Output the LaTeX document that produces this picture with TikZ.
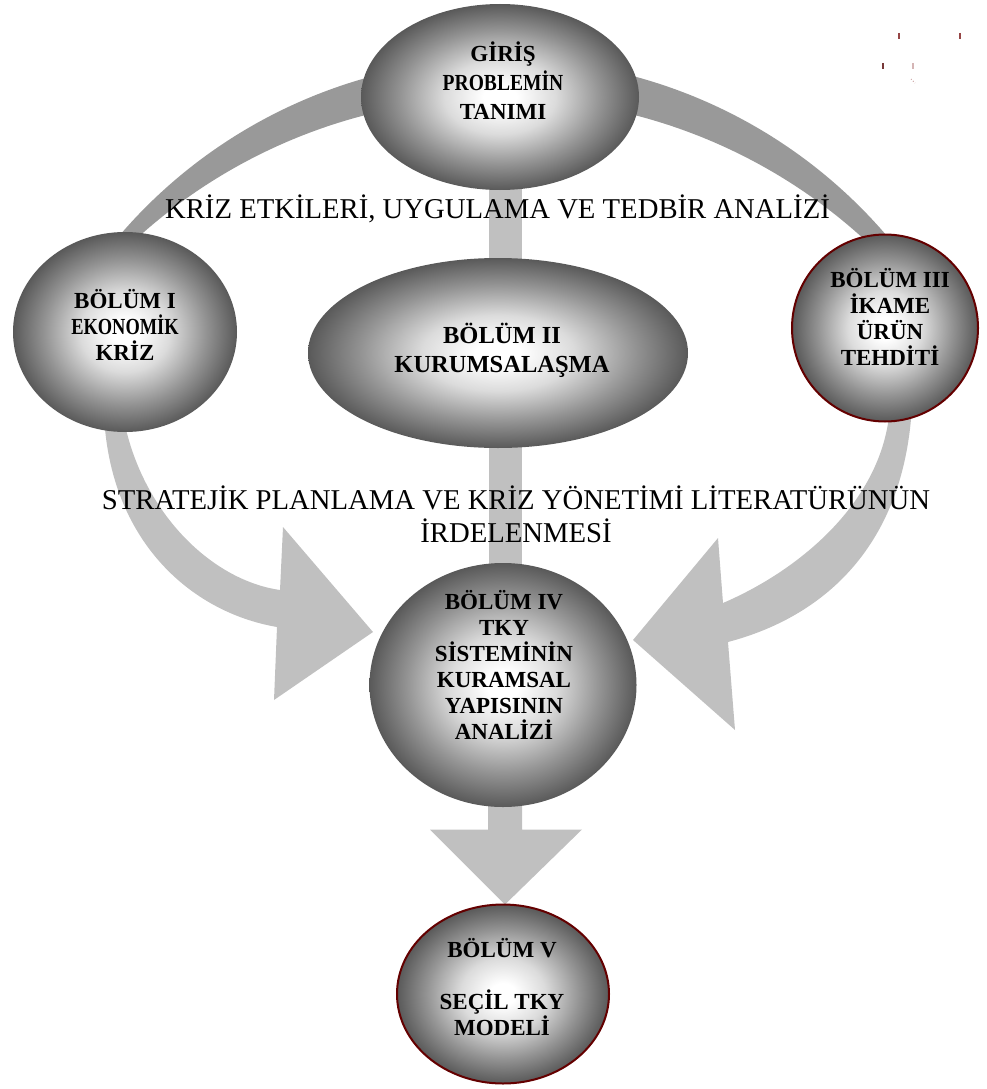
\documentclass[tikz,border=0pt]{standalone}
\usepackage{fontspec}
\usepackage{graphicx}
\setmainfont{Liberation Serif}
\usetikzlibrary{calc,shapes.geometric}

% sphere-like fill: white core fading to a dark rim (the rim sits at about 35bp)
\pgfdeclareradialshading{orb}{\pgfpoint{0bp}{0bp}}{color(0bp)=(white); color(3bp)=(white); color(10bp)=(black!14); color(18bp)=(black!42); color(25bp)=(black!65); color(30bp)=(black!78); color(34bp)=(black!85); color(50bp)=(black!85)}

\definecolor{arcgray}{RGB}{153,153,153}
\definecolor{bargray}{RGB}{192,192,192}
\definecolor{rim}{RGB}{100,0,0}
\definecolor{speck}{RGB}{150,70,70}

% centred lines whose reference point is the first baseline
\newcommand\linestack[1]{\vtop{\halign{\hfil##\hfil\cr#1\crcr}}}
\newcommand\narrow[2]{\scalebox{#1}[1]{#2}}

\pgfdeclarelayer{background}
\pgfsetlayers{background,main}

\begin{document}
\begin{tikzpicture}[x=1pt,y=-1pt,
  orbnode/.style={ellipse, inner sep=0pt, outer sep=0pt, shade, shading=orb},
  rimmed/.style={draw=rim, line width=2pt},
  heading/.style={anchor=base, inner sep=0pt, font=\bfseries\fontsize{23}{26}\selectfont},
  caption/.style={anchor=base, inner sep=0pt, font=\fontsize{28.7}{33}\selectfont},
  bar/.style={draw=bargray, line width=33pt, shorten <=-12pt, shorten >=-12pt},
]
\useasboundingbox (0,0) rectangle (987,1089);

% chapter orbs
\node[orbnode, minimum width=278pt, minimum height=186pt] (intro) at (500,97) {};
\node[orbnode, minimum width=224pt, minimum height=200pt] (ch1) at (125,332) {};
\node[orbnode, minimum width=380pt, minimum height=190pt] (ch2) at (498,353) {};
\node[orbnode, rimmed, minimum width=186pt, minimum height=187pt] (ch3) at (885,328) {};
\node[orbnode, minimum width=267pt, minimum height=244pt] (ch4) at (503,685) {};
\node[orbnode, rimmed, minimum width=212pt, minimum height=179pt] (ch5) at (503,994) {};

\coordinate (axis) at (505,0);
\coordinate (dtip) at (ch5.north -| axis);

\begin{pgfonlayer}{background}
  % block arc joining chapter I, the introduction and chapter III
  \fill[arcgray] (503,564) ++(-145.8:505)
    arc[start angle=-145.8, end angle=-34.2, radius=505]
    -- ($(500,638)+(-41.5:540)$)
    arc[start angle=-41.5, end angle=-138.5, radius=540] -- cycle;

  % vertical links along the middle
  \draw[bar] (intro.south -| axis) -- (ch2.north -| axis);
  \draw[bar] (ch2.south -| axis) -- (ch4.north -| axis);

  % block arrow from chapter IV down to chapter V
  \fill[bargray] ($(ch4.south -| axis)+(-17,-20)$) -- ($(dtip)+(-17,-75)$)
    -- ($(dtip)+(-75,-75)$) -- (dtip) -- ($(dtip)+(77,-75)$)
    -- ($(dtip)+(17,-75)$) -- ($(ch4.south -| axis)+(17,-20)$) -- cycle;

  % curved arrow from chapter I into chapter IV
  \fill[bargray] (104,415) .. controls (110,540) and (190,612) .. (277,627)
    -- (274,700) -- (373,632) -- (283,527) -- (280,590)
    .. controls (210,580) and (140,510) .. (123,415) -- cycle;

  % curved arrow from chapter III into chapter IV
  \fill[bargray] (912,405) .. controls (905,540) and (830,615) .. (728,642)
    -- (735,730) -- (633,640) -- (718,538) -- (723,603)
    .. controls (800,570) and (885,500) .. (890,405) -- cycle;
\end{pgfonlayer}

% chapter titles
\node[heading, font=\bfseries\fontsize{23}{29}\selectfont] (introtext) at (503,62) {\linestack{GİRİŞ\cr \narrow{0.85}{PROBLEMİN}\cr TANIMI}};
\node[heading] (ch1text) at (125,308) {\linestack{BÖLÜM I\cr \narrow{0.8}{EKONOMİK}\cr KRİZ}};
\node[heading, font=\bfseries\fontsize{24.5}{29}\selectfont] (ch2text) at (502,343) {\linestack{BÖLÜM II\cr KURUMSALAŞMA}};
\node[heading] (ch3text) at (890,287) {\linestack{BÖLÜM III\cr İKAME\cr ÜRÜN\cr TEHDİTİ}};
\node[heading] (ch4text) at (504,609) {\linestack{BÖLÜM IV\cr TKY\cr SİSTEMİNİN\cr KURAMSAL\cr YAPISININ\cr ANALİZİ}};
\node[heading] (ch5text) at (502,957) {\linestack{BÖLÜM V\cr\cr SEÇİL TKY\cr MODELİ}};

% band captions
\node[caption] (band1) at (497.5,218) {KRİZ ETKİLERİ, UYGULAMA VE TEDBİR ANALİZİ};
\node[caption] (band2) at (516,509) {\linestack{STRATEJİK PLANLAMA VE KRİZ YÖNETİMİ LİTERATÜRÜNÜN\cr İRDELENMESİ}};

% faint specks in the top right corner
\draw[speck, line width=1.2pt] (899,33) -- (899,39);
\draw[speck, line width=1.2pt] (960,33) -- (960,39);
\draw[speck!80!black, line width=1.2pt] (883,63) -- (883,69);
\draw[speck!40, line width=1.2pt] (913,63) -- (913,69);
\draw[speck!60, line width=0.8pt, dotted] (911,79) -- (915,83);
\end{tikzpicture}
\end{document}
